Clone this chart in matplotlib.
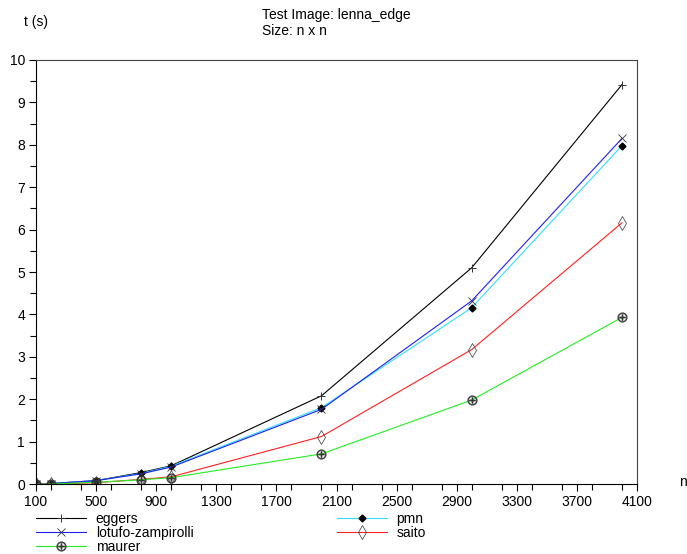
import matplotlib
matplotlib.use('Agg')
import matplotlib.pyplot as plt
import numpy as np
from matplotlib.legend_handler import HandlerLine2D
from matplotlib.ticker import MultipleLocator

plt.rcParams['font.family'] = ['Liberation Sans', 'DejaVu Sans']
plt.rcParams['font.size'] = 10

n = [100, 200, 500, 800, 1000, 2000, 3000, 4000]
eggers = [0.0, 0.01, 0.08, 0.27, 0.43, 2.08, 5.10, 9.42]
pmn = [0.0, 0.01, 0.08, 0.25, 0.42, 1.80, 4.16, 7.98]
lotufo = [0.0, 0.01, 0.08, 0.24, 0.40, 1.76, 4.32, 8.15]
saito = [0.0, 0.0, 0.03, 0.11, 0.17, 1.12, 3.17, 6.16]
maurer = [0.0, 0.0, 0.04, 0.10, 0.15, 0.71, 1.98, 3.93]

xticks = list(range(100, 4101, 400))


class EndMarker(HandlerLine2D):
    # marker at right end of legend line
    def get_xdata(self, legend, xdescent, ydescent, width, height, fontsize):
        xdata = np.array([-xdescent, -xdescent + width])
        return xdata, np.array([-xdescent + width])


fig = plt.figure(figsize=(6.87, 5.54), dpi=100)
ax = fig.add_axes([36/687, 70/554, 601/687, 424/554])

mk = '#333333'
l1, = ax.plot(n, eggers, color='black', lw=0.8, marker='+', ms=6, mec=mk, mew=0.7, label='eggers')
l2, = ax.plot(n, pmn, color='#33ddff', lw=0.8, marker='D', ms=3.5, mec='black', mfc='black', label='pmn')
l3, = ax.plot(n, lotufo, color='#2020ee', lw=0.8, marker='x', ms=5.5, mec=mk, mew=0.6, label='lotufo-zampirolli')
l4, = ax.plot(n, saito, color='#ff2020', lw=0.8, marker='d', ms=7, mec=mk, mfc='none', mew=0.5, label='saito')
l5, = ax.plot(n, maurer, color='#22ee22', lw=0.8, marker=r'$\oplus$', ms=7, mec=mk, mfc=mk, mew=0.2, label='maurer')

ax.set_xlim(100, 4100)
ax.set_ylim(0, 10)
ax.set_xticks(xticks)
ax.xaxis.set_minor_locator(MultipleLocator(200))
ax.yaxis.set_major_locator(MultipleLocator(1))
ax.yaxis.set_minor_locator(MultipleLocator(0.5))
ax.tick_params(which='major', direction='out', length=5, width=0.8, labelsize=10, pad=3)
ax.tick_params(which='minor', direction='out', length=4, width=0.8)
for s in ['top', 'right']:
    ax.spines[s].set_color('#444444')
    ax.spines[s].set_linewidth(0.8)

fig.text(24/687, 1 - 22/554, 't (s)', ha='left', va='center')
fig.text(679/687, 1 - 482/554, 'n', ha='left', va='center')
fig.text(262/687, 1 - 23/554, 'Test Image: lenna_edge\nSize: n x n', ha='left', va='center',
         linespacing=1.25)

handles = [l1, l3, l5, l2, l4]
leg = fig.legend(handles=handles, labels=[h.get_label() for h in handles], ncol=2,
                 loc='upper left', bbox_to_anchor=(36/687, 1 - 512/554), frameon=False,
                 handlelength=3.6, handletextpad=0.7, columnspacing=10.3, labelspacing=0.0,
                 borderpad=0, borderaxespad=0, handler_map={matplotlib.lines.Line2D: EndMarker(numpoints=1)})

fig.savefig('out.png', dpi=100)
